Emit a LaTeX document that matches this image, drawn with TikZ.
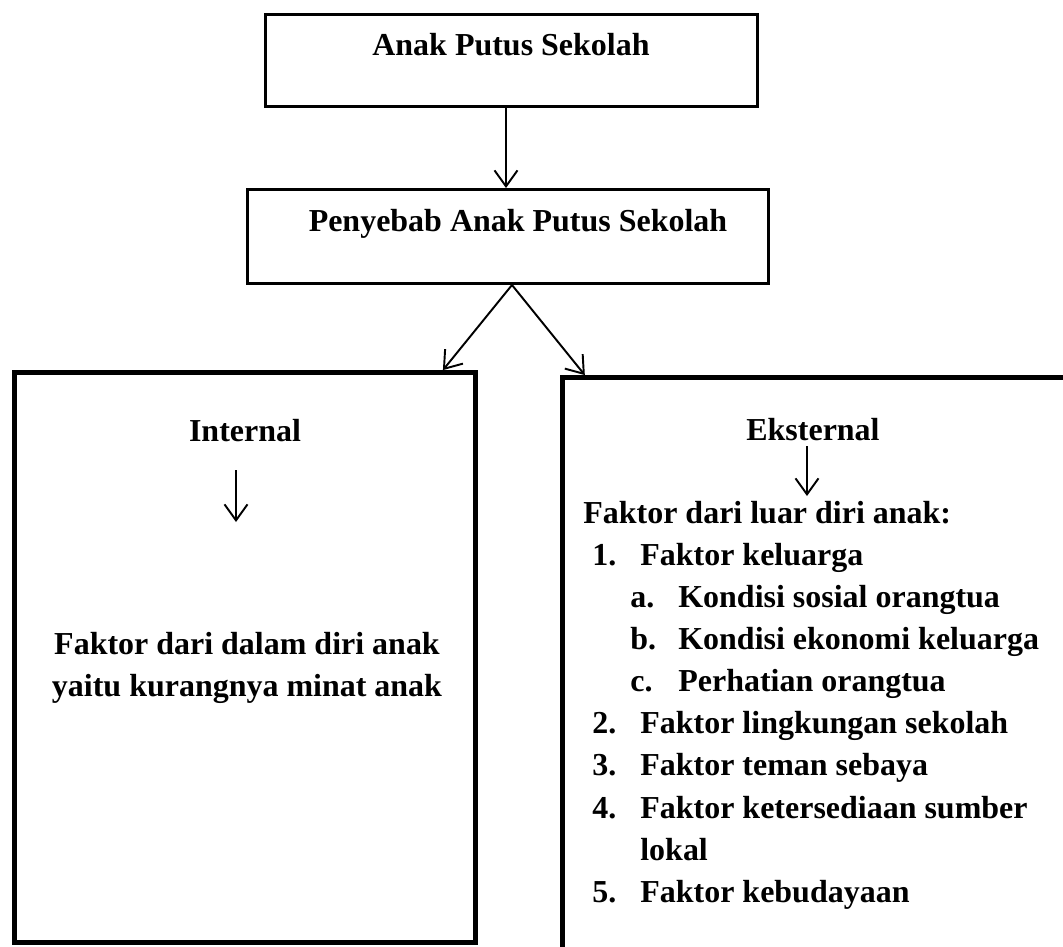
\documentclass[tikz,border=0pt]{standalone}
\usepackage{fontspec}
\setmainfont{Liberation Serif}
\usetikzlibrary{arrows.meta,positioning,calc}
\tikzset{
  thinbox/.style={draw,line width=1.7pt,inner sep=0pt},
  thickbox/.style={draw,line width=2.8pt,inner sep=0pt},
  lbl/.style={font=\fontsize{18.2}{23.8}\selectfont\bfseries,inner sep=0pt},
  flow/.style={-{Straight Barb[length=3.2mm,width=4.6mm]},line width=1.1pt}
}

\begin{document}
\begin{tikzpicture}[x=0.02cm,y=-0.02cm]
  \useasboundingbox (0,0) rectangle (1063,947);
  % boxes
  \node[thinbox,minimum width=9.84cm,minimum height=1.84cm] (anak) at (511.5,60.5) {};
  \node[thinbox,minimum width=10.42cm,minimum height=1.88cm] (sebab) at (508,236.5) {};
  \node[thickbox,minimum width=9.22cm,minimum height=11.4cm] (internal) at (245,657.5) {};
  \node[thickbox,minimum width=10.35cm,minimum height=11.65cm] (eksternal) at (821,668.75) {};
  % titles
  \node[lbl,anchor=base] (anakT) at (511,55) {Anak Putus Sekolah};
  \node[lbl,anchor=base] (sebabT) at (518,231) {Penyebab Anak Putus Sekolah};
  \node[lbl,anchor=base] (intT) at (245,441) {Internal};
  \node[lbl,anchor=base] (eksT) at (813,440) {Eksternal};
  % arrows between boxes
  \draw[flow] ([xshift=-0.11cm]anak.south) -- ([xshift=-0.04cm]sebab.north);
  \draw[flow] ([xshift=0.08cm]sebab.south) -- ([xshift=-0.7cm]internal.north east);
  \draw[flow] ([xshift=0.08cm]sebab.south) -- ([xshift=0.5cm]eksternal.north west);
  % internal
  \coordinate (intA) at (236,470);
  \coordinate (intB) at (236,522);
  \draw[flow] (intA) -- (intB);
  \node[lbl,align=center] (intTxt) at (247,668)
    {Faktor dari dalam diri anak\\yaitu kurangnya minat anak};
  % eksternal
  \coordinate (eksA) at (807,446);
  \coordinate (eksB) at (807,496);
  \draw[flow] (eksA) -- (eksB);
  \node[lbl,anchor=base west] (eks0) at (583,523) {Faktor dari luar diri anak:};
  \foreach \i/\y/\nx/\num/\tx/\txt in {
    1/565/592/1./640/Faktor keluarga,
    2/607/630/a./678/Kondisi sosial orangtua,
    3/649/630/b./678/Kondisi ekonomi keluarga,
    4/691/630/c./678/Perhatian orangtua,
    5/733/592/2./640/Faktor lingkungan sekolah,
    6/775/592/3./640/Faktor teman sebaya,
    7/818/592/4./640/Faktor ketersediaan sumber,
    8/860/592//640/lokal,
    9/902/592/5./640/Faktor kebudayaan}{
      \node[lbl,anchor=base west] (num\i) at (\nx,\y) {\num};
      \node[lbl,anchor=base west] (eks\i) at (\tx,\y) {\txt};
  }
\end{tikzpicture}
\end{document}
